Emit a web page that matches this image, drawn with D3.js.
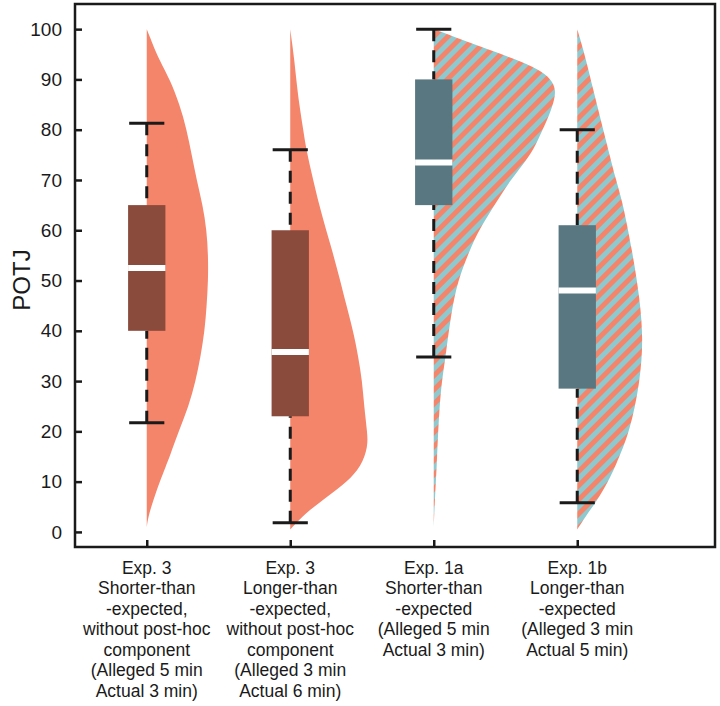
<!DOCTYPE html>
<html><head><meta charset="utf-8">
<script src="https://cdn.jsdelivr.net/npm/d3@7"></script>
<style>
body{margin:0;background:#fff;}
svg{display:block;font-family:"Liberation Sans",Arial,Helvetica,sans-serif;}
</style>
</head><body>
<svg id="chart" width="720" height="706"></svg>
<script>
// ---------- data ----------
const categoryLabels = [
  ["Exp. 3","Shorter-than","-expected,","without post-hoc","component","(Alleged 5 min","Actual 3 min)"],
  ["Exp. 3","Longer-than","-expected,","without post-hoc","component","(Alleged 3 min","Actual 6 min)"],
  ["Exp. 1a","Shorter-than","-expected","(Alleged 5 min","Actual 3 min)"],
  ["Exp. 1b","Longer-than","-expected","(Alleged 3 min","Actual 5 min)"]
];
const q1 = [40, 23, 65, 28.5];
const medians = [52.5, 35.8, 73.5, 48];
const q3 = [65, 60, 90, 61];
const whiskerLow = [21.7, 1.8, 34.8, 5.8];
const whiskerHigh = [81.3, 76, 100, 80];
const yTicks = [0,10,20,30,40,50,60,70,80,90,100];
const fillKind = ["solid","solid","striped","striped"];

// kernel density estimates: [POTJ, relative density]
const density1 = [[1,0],[3,1.5],[6,6],[10,13],[13,19],[15,23],[20,32],[25,42],[30,49],[35,54],[40,58],[45,60],[50,61.5],[55,61.5],[60,60],[65,56],[70,50],[75,45],[80,40],[85,33],[90,23],[93,15],[95,10],[97.5,5],[100,0]];
const density2 = [[0.5,0],[2,7],[4,17],[7,37],[10,57],[13,71],[17,78],[20,77],[25,74],[30,72],[35,68],[40,63],[46,55],[50,50],[56,42],[60,36],[65,29],[70,23],[76,16],[80,13],[85,9],[90,6],[94,4],[97,2],[100,0]];
const density3 = [[1,0],[6,1],[13,3],[23,5],[30,8],[35,12],[43,17],[50,24],[56,36],[60,45],[66,64],[70,77],[73,89],[76,100],[80,109],[83,116],[86,121],[88,122],[90,118],[92,105],[94,82],[96,54],[98,27],[100,0]];
const density4 = [[0.5,0],[3,8],[6,19],[10,31],[13,38],[20,53],[30,63],[38,66],[46,63],[56,55],[66,45],[69,40],[80,26],[88,16],[92,11],[96,6],[100,0]];
const densities = [density1, density2, density3, density4];

// ---------- layout ----------
const svg = d3.select("#chart");
const plot = {left:75, right:715, top:4, bottom:547};
const x = d3.scaleLinear().domain([0.5, 4.96]).range([plot.left, plot.right]);
const y = d3.scaleLinear().domain([-3, 105]).range([plot.bottom, plot.top]);
const step = x(2) - x(1);
const w = d3.scaleLinear().domain([0, 120]).range([0, step * 0.835]);
const boxW = step * 0.26;
const capW = step * 0.245;

const colOrange = "#f4856a", colBlue = "#8dc9cf";
const boxColor = ["#8a4a3c","#8a4a3c","#587780","#587780"];

const defs = svg.append("defs");
const pat = defs.append("pattern").attr("id","stripes").attr("patternUnits","userSpaceOnUse")
  .attr("width",10).attr("height",10).attr("patternTransform","rotate(45)");
pat.append("rect").attr("width",10).attr("height",10).attr("fill",colBlue);
pat.append("rect").attr("width",5).attr("height",10).attr("fill",colOrange);

// violins
densities.forEach((dens, i) => {
  const cx = x(i + 1);
  const pts = dens.slice().sort((a, b) => b[0] - a[0]);
  const area = d3.area()
    .y(d => y(d[0]))
    .x0(() => cx)
    .x1(d => cx + w(d[1]))
    .curve(d3.curveBasis);
  svg.append("path").datum(pts).attr("d", area)
    .attr("fill", fillKind[i] === "striped" ? "url(#stripes)" : colOrange);
});

// boxes
categoryLabels.forEach((_, i) => {
  const cx = x(i + 1);
  [[q3[i], whiskerHigh[i]], [q1[i], whiskerLow[i]]].forEach(([a, b]) => {
    svg.append("line").attr("x1",cx).attr("x2",cx).attr("y1",y(b)).attr("y2",y(a))
      .attr("stroke","#1a1a1a").attr("stroke-width",3).attr("stroke-dasharray","12,9");
    svg.append("line").attr("x1",cx-capW/2).attr("x2",cx+capW/2).attr("y1",y(b)).attr("y2",y(b))
      .attr("stroke","#1a1a1a").attr("stroke-width",3);
  });
  svg.append("rect").attr("x",cx-boxW/2).attr("width",boxW)
    .attr("y",y(q3[i])).attr("height",y(q1[i])-y(q3[i])).attr("fill",boxColor[i]);
  svg.append("line").attr("x1",cx-boxW/2).attr("x2",cx+boxW/2)
    .attr("y1",y(medians[i])).attr("y2",y(medians[i]))
    .attr("stroke","#fff").attr("stroke-width",6);
});

// axes
const yAxis = d3.axisLeft(y).tickValues(yTicks).tickSizeInner(-7).tickSizeOuter(0).tickPadding(13);
const gy = svg.append("g").attr("transform",`translate(${plot.left},0)`).call(yAxis);
gy.select(".domain").remove();
gy.selectAll(".tick line").attr("stroke","#1a1a1a").attr("stroke-width",2.5);
gy.selectAll(".tick text").attr("font-size",19).attr("fill","#1a1a1a")
  .attr("font-family","'Liberation Sans',Arial,Helvetica,sans-serif");

const xAxis = d3.axisBottom(x).tickValues([1,2,3,4]).tickSizeInner(-7).tickSizeOuter(0).tickFormat("");
const gx = svg.append("g").attr("transform",`translate(0,${plot.bottom})`).call(xAxis);
gx.select(".domain").remove();
gx.selectAll(".tick line").attr("stroke","#1a1a1a").attr("stroke-width",2.5);

// frame
svg.append("rect").attr("x",plot.left).attr("y",plot.top)
  .attr("width",plot.right-plot.left).attr("height",plot.bottom-plot.top)
  .attr("fill","none").attr("stroke","#1a1a1a").attr("stroke-width",2.5);

// category labels
categoryLabels.forEach((lines, i) => {
  const t = svg.append("text").attr("text-anchor","middle").attr("font-size",17.5).attr("fill","#1a1a1a");
  lines.forEach((ln, k) => {
    t.append("tspan").attr("x", x(i+1)).attr("y", 573.5 + k*20.5).text(ln);
  });
});

// y label
svg.append("text").attr("transform","translate(30,280) rotate(-90)")
  .attr("text-anchor","middle").attr("font-size",24).attr("fill","#1a1a1a").text("POTJ");
</script>
</body></html>
